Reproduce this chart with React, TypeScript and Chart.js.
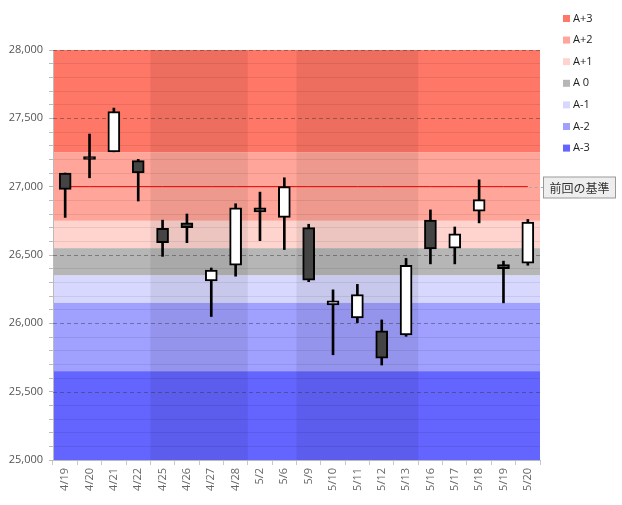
import React, { useEffect, useRef } from 'react';
import { Chart, registerables } from 'chart.js';
Chart.register(...registerables);

const categories = ['4/19','4/20','4/21','4/22','4/25','4/26','4/27','4/28','5/2','5/6','5/9','5/10','5/11','5/12','5/13','5/16','5/17','5/18','5/19','5/20'];
const opens  = [27100,27220,27255,27190,26695,26735,26310,26425,26845,26775,26700,26135,26040,25945,25915,26755,26550,26820,26430,26440];
const highs  = [27100,27385,27575,27200,26755,26800,26405,26875,26960,27065,26725,26245,26285,26025,26475,26830,26705,27050,26455,26760];
const lows   = [26775,27065,27255,26895,26490,26590,26050,26345,26605,26540,26305,25770,26005,25695,25905,26435,26435,26735,26150,26425];
const closes = [26980,27200,27550,27100,26590,26700,26390,26845,26815,27000,26315,26165,26210,25745,26425,26545,26655,26905,26400,26740];

const bandNames = ['A+3','A+2','A+1','A 0','A-1','A-2','A-3'];
const bandFrom = [27250,26750,26550,26350,26150,25650,25000];
const bandTo   = [28000,27250,26750,26550,26350,26150,25650];
const bandColors = ['#FF7766','#FFA599','#FFD4CF','#B6B6B6','#D8D8FF','#A0A0FF','#6464FF'];

const shadedWeeks: [string, string][] = [['4/25','4/28'],['5/9','5/13']];

const refValue = 27000;
const refLabel = '前回の基準';

const yMin = 25000;
const yMax = 28000;
const yMajor = 500;
const yMinor = 100;

const FONT = '"Open Sans", "Noto Sans CJK JP", sans-serif';

const bgPlugin = {
  id: 'bgPlugin',
  beforeDraw(chart: any) {
    const { ctx, chartArea: a, scales } = chart;
    const x = scales.x, y = scales.y;
    ctx.save();
    bandNames.forEach((_, i) => {
      const top = y.getPixelForValue(bandTo[i]);
      const bot = y.getPixelForValue(bandFrom[i]);
      ctx.fillStyle = bandColors[i];
      ctx.fillRect(a.left, top, a.right - a.left, bot - top);
    });
    const step = x.getPixelForValue(1) - x.getPixelForValue(0);
    shadedWeeks.forEach(([s, e]) => {
      const i0 = categories.indexOf(s), i1 = categories.indexOf(e);
      const l = x.getPixelForValue(i0) - step / 2;
      const r = x.getPixelForValue(i1) + step / 2;
      ctx.fillStyle = 'rgba(0,0,0,0.07)';
      ctx.fillRect(l, a.top, r - l, a.bottom - a.top);
    });
    ctx.restore();
  },
  beforeDatasetsDraw(chart: any) {
    const { ctx, chartArea: a, scales } = chart;
    const y = scales.y;
    ctx.save();
    ctx.strokeStyle = 'rgba(50,50,50,0.45)';
    ctx.lineWidth = 1;
    ctx.setLineDash([4, 3]);
    for (let v = yMin + yMajor; v <= yMax; v += yMajor) {
      if (v === refValue) continue;
      const py = Math.round(y.getPixelForValue(v)) + 0.5;
      ctx.beginPath();
      ctx.moveTo(a.left, py);
      ctx.lineTo(a.right, py);
      ctx.stroke();
    }
    ctx.restore();
  },
  afterDraw(chart: any) {
    const { ctx, chartArea: a, scales } = chart;
    const x = scales.x, y = scales.y;
    ctx.save();
    // legend
    ctx.font = '11px ' + FONT;
    ctx.textBaseline = 'middle';
    ctx.textAlign = 'left';
    bandNames.forEach((n, i) => {
      const cy = 18.5 + i * 21.6;
      ctx.fillStyle = bandColors[i];
      ctx.fillRect(563, cy - 3.5, 7, 7);
      ctx.fillStyle = '#222';
      ctx.fillText(n, 573, cy);
    });
    // reference label
    const py = Math.round(y.getPixelForValue(refValue)) + 0.5;
    const lastX = x.getPixelForValue(categories.length - 1);
    const boxL = a.right + 3.5;
    ctx.strokeStyle = '#aaa';
    ctx.lineWidth = 1;
    ctx.setLineDash([3, 3]);
    ctx.beginPath();
    ctx.moveTo(lastX + 1, py);
    ctx.lineTo(boxL, py);
    ctx.stroke();
    ctx.setLineDash([]);
    ctx.fillStyle = '#eeeeee';
    ctx.fillRect(boxL, py - 10.5, 72, 21);
    ctx.strokeStyle = '#999';
    ctx.strokeRect(boxL, py - 10.5, 72, 21);
    ctx.fillStyle = '#333';
    ctx.font = '12px "Noto Sans CJK JP", sans-serif';
    ctx.textAlign = 'center';
    ctx.fillText(refLabel, boxL + 36, py + 0.5);
    ctx.restore();
  },
};

export default function App() {
  const ref = useRef<HTMLCanvasElement | null>(null);
  useEffect(() => {
    document.body.style.margin = '0';
    const canvas = ref.current;
    if (!canvas) return;
    const chart = new Chart(canvas, {
      type: 'bar',
      data: {
        labels: categories,
        datasets: [
          {
            type: 'bar',
            label: 'body',
            data: categories.map((_, i) => [opens[i], closes[i]]) as any,
            backgroundColor: categories.map((_, i) => (closes[i] >= opens[i] ? '#ffffff' : '#444444')),
            borderColor: '#000',
            borderWidth: 2,
            borderSkipped: false,
            barThickness: 12,
            grouped: false,
            order: 0,
          } as any,
          {
            type: 'bar',
            label: 'wick',
            data: categories.map((_, i) => [lows[i], highs[i]]) as any,
            backgroundColor: '#000',
            borderWidth: 0,
            barThickness: 2,
            grouped: false,
            order: 1,
          } as any,
          {
            type: 'line',
            label: 'ref',
            data: categories.map(() => refValue),
            borderColor: '#e00000',
            borderWidth: 1,
            pointRadius: 0,
            order: 2,
          } as any,
        ],
      },
      options: {
        animation: false,
        responsive: true,
        maintainAspectRatio: false,
        layout: { padding: { left: 0, top: 50, right: 82, bottom: 0 } },
        plugins: { legend: { display: false }, tooltip: { enabled: false } },
        scales: {
          x: {
            type: 'category',
            offset: true,
            grid: { display: true, drawOnChartArea: false, offset: true, tickLength: 5, color: '#c8c8c8' },
            border: { color: '#bbbbbb' },
            ticks: { autoSkip: false, minRotation: 90, maxRotation: 90, padding: 3, color: '#666', font: { size: 11, family: FONT } },
            afterFit: (s: any) => { s.height = 45; },
          },
          y: {
            min: yMin,
            max: yMax,
            grid: {
              color: (c: any) => (c.tick && c.tick.value % yMajor === 0 ? 'rgba(0,0,0,0)' : 'rgba(0,0,0,0.08)'),
              tickColor: '#bbbbbb',
              tickLength: 4,
            },
            border: { color: '#bbbbbb' },
            ticks: {
              stepSize: yMinor,
              autoSkip: false,
              padding: 6,
              color: '#555',
              font: { size: 11, family: FONT },
              callback: (v: any) => (Number(v) % yMajor === 0 ? Number(v).toLocaleString('en-US') : ''),
            },
            afterFit: (s: any) => { s.width = 53; },
          },
        },
      } as any,
      plugins: [bgPlugin],
    });
    return () => chart.destroy();
  }, []);
  return (
    <div style={{ width: 622, height: 505, position: 'relative' }}>
      <canvas ref={ref} />
    </div>
  );
}
